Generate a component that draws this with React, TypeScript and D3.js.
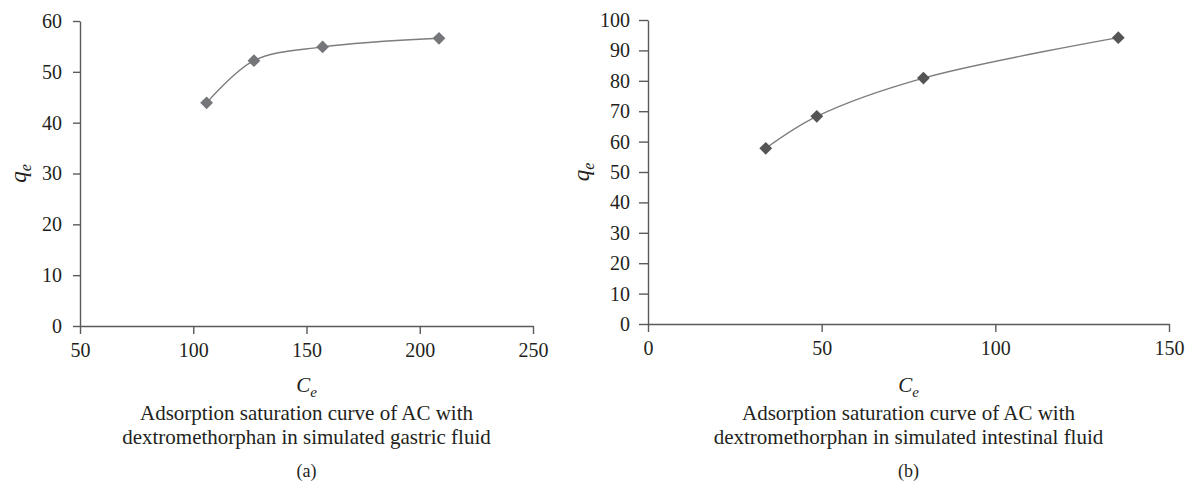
import React, { useEffect, useRef } from "react";
import * as d3 from "d3";

// panel (a): simulated gastric fluid
const gastricCe = [105.9, 126.8, 157.1, 208.5];
const gastricQe = [43.9, 52.2, 54.9, 56.6];
const gastricXTicks = [50, 100, 150, 200, 250];
const gastricYTicks = [0, 10, 20, 30, 40, 50, 60];

// panel (b): simulated intestinal fluid
const intestinalCe = [33.9, 48.6, 79.3, 135.4];
const intestinalQe = [57.8, 68.3, 80.9, 94.2];
const intestinalXTicks = [0, 50, 100, 150];
const intestinalYTicks = [0, 10, 20, 30, 40, 50, 60, 70, 80, 90, 100];

const captionA = ["Adsorption saturation curve of AC with", "dextromethorphan in simulated gastric fluid"];
const captionB = ["Adsorption saturation curve of AC with", "dextromethorphan in simulated intestinal fluid"];

const FONT = "Liberation Serif, Times New Roman, DejaVu Serif, Noto Serif, serif";
const INK = "#231f20";

export default function App() {
  const svgRef = useRef<SVGSVGElement>(null);

  useEffect(() => {
    const svg = d3.select(svgRef.current);
    svg.selectAll("*").remove();

    const panels = [
      {
        ce: gastricCe, qe: gastricQe, xTicks: gastricXTicks, yTicks: gastricYTicks,
        x0: 80, x1: 533, y0: 326, y1: 21, caption: captionA, tag: "(a)",
        marker: "#75767a", yLabelX: 26, tick: 7,
      },
      {
        ce: intestinalCe, qe: intestinalQe, xTicks: intestinalXTicks, yTicks: intestinalYTicks,
        x0: 648, x1: 1169, y0: 324, y1: 20, caption: captionB, tag: "(b)",
        marker: "#555555", yLabelX: 589, tick: 9,
      },
    ];

    panels.forEach((p) => {
      const xScale = d3
        .scaleLinear()
        .domain([p.xTicks[0], p.xTicks[p.xTicks.length - 1]])
        .range([p.x0, p.x1]);
      const yScale = d3
        .scaleLinear()
        .domain([p.yTicks[0], p.yTicks[p.yTicks.length - 1]])
        .range([p.y0, p.y1]);

      const g = svg.append("g").attr("font-family", FONT);

      // axes
      const xAxis = d3.axisBottom(xScale).tickValues(p.xTicks).tickSize(8).tickSizeOuter(0).tickPadding(9);
      const yAxis = d3.axisLeft(yScale).tickValues(p.yTicks).tickSize(p.tick).tickSizeOuter(0).tickPadding(18 - p.tick);

      const gx = g.append("g").attr("transform", `translate(0,${p.y0})`).call(xAxis);
      const gy = g.append("g").attr("transform", `translate(${p.x0},0)`).call(yAxis);
      [gx, gy].forEach((a) => {
        a.attr("font-family", FONT).attr("font-size", 20);
        a.selectAll("path, line").attr("stroke", "#5a5a5a").attr("stroke-width", 1.4);
        a.selectAll("text").attr("fill", INK);
      });

      // smoothed line
      const pts = p.ce.map((c, i) => [xScale(c), yScale(p.qe[i])] as [number, number]);
      const line = d3.line().curve(d3.curveCatmullRom.alpha(0.5));
      g.append("path")
        .attr("d", line(pts))
        .attr("fill", "none")
        .attr("stroke", "#7d7d7d")
        .attr("stroke-width", 1.4);

      // diamond markers
      const sym = d3.symbol().type(d3.symbolSquare).size(82);
      g.selectAll(".mk")
        .data(pts)
        .join("path")
        .attr("class", "mk")
        .attr("d", sym())
        .attr("transform", (d) => `translate(${d[0]},${d[1]}) rotate(45)`)
        .attr("fill", p.marker);

      const cx = (p.x0 + p.x1) / 2;

      // y label q_e
      const yl = g.append("text")
        .attr("transform", `translate(${p.yLabelX},${(p.y0 + p.y1) / 2}) rotate(-90)`)
        .attr("text-anchor", "middle")
        .attr("font-size", 23)
        .attr("font-style", "italic")
        .attr("fill", INK);
      yl.append("tspan").text("q");
      yl.append("tspan").attr("dy", 5).attr("font-size", 16).text("e");

      // x label C_e
      const xl = g.append("text")
        .attr("x", cx)
        .attr("y", 392)
        .attr("text-anchor", "middle")
        .attr("font-size", 21)
        .attr("font-style", "italic")
        .attr("fill", INK);
      xl.append("tspan").text("C");
      xl.append("tspan").attr("dy", 5).attr("font-size", 15).text("e");

      p.caption.forEach((t, i) => {
        g.append("text")
          .attr("x", cx)
          .attr("y", 420 + i * 24)
          .attr("text-anchor", "middle")
          .attr("font-size", 21)
          .attr("fill", INK)
          .text(t);
      });

      g.append("text")
        .attr("x", cx)
        .attr("y", 477)
        .attr("text-anchor", "middle")
        .attr("font-size", 18)
        .attr("fill", INK)
        .text(p.tag);
    });
  }, []);

  return (
    <svg
      ref={svgRef}
      width={1187}
      height={485}
      style={{ position: "absolute", left: 0, top: 0, background: "#fff" }}
    />
  );
}
